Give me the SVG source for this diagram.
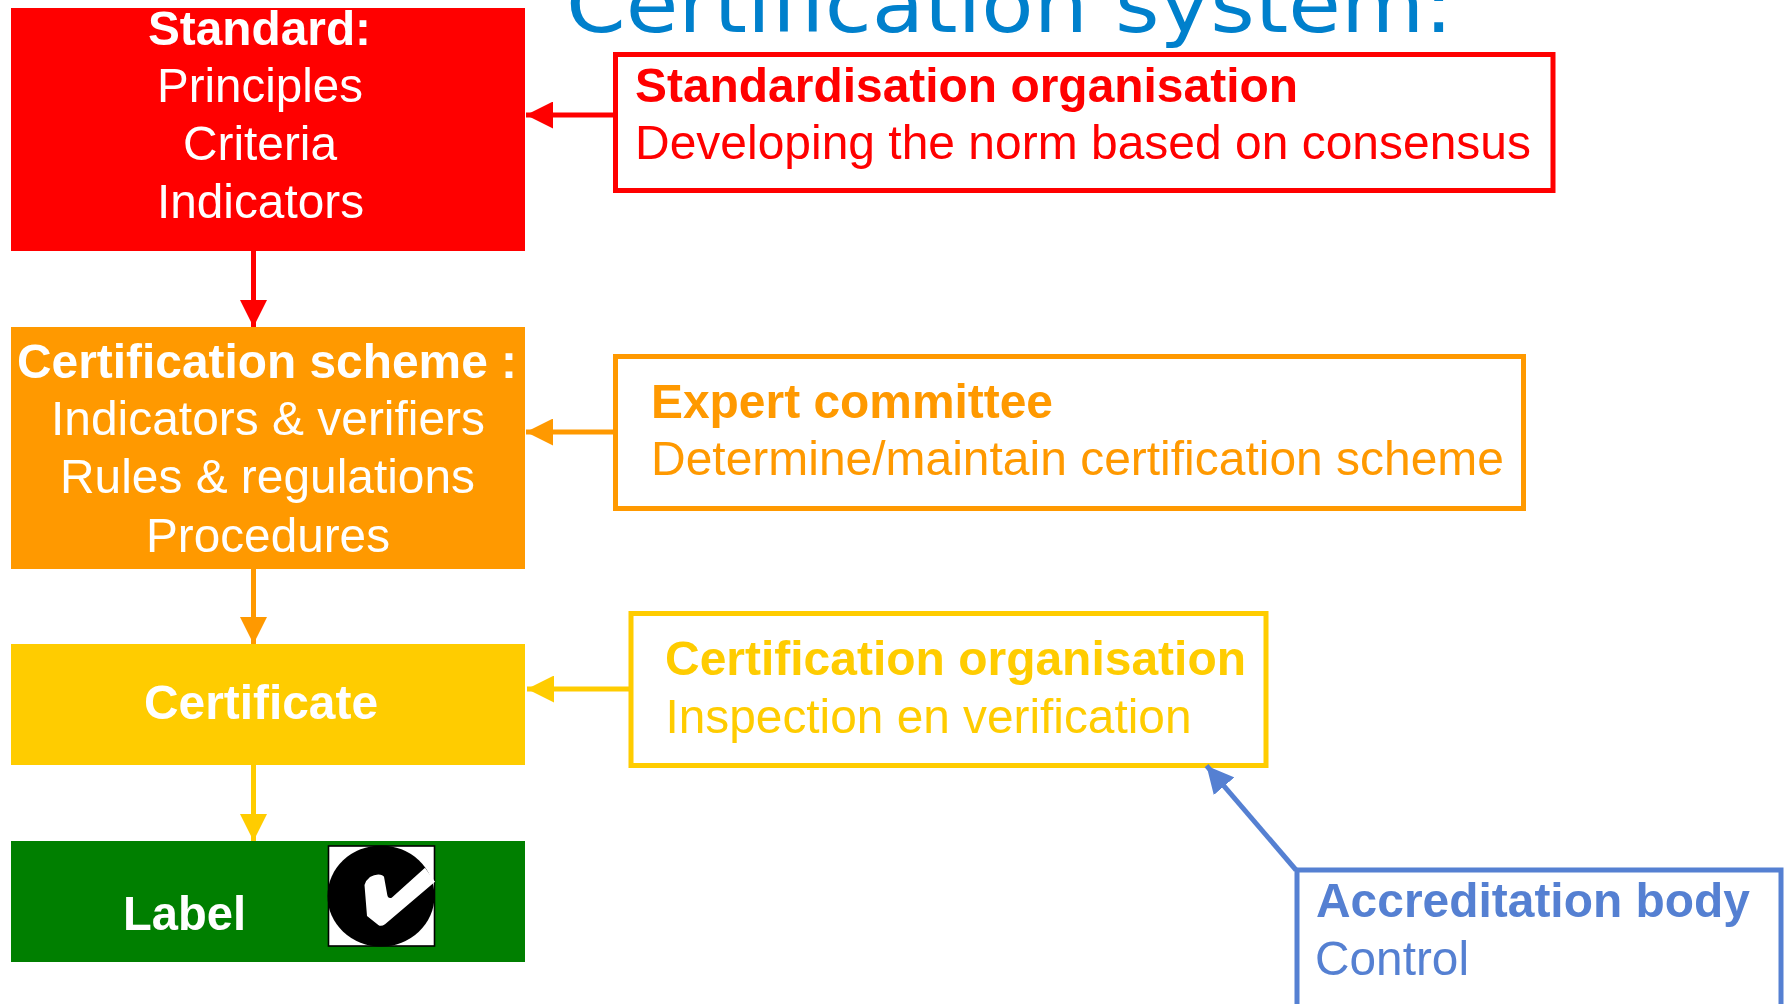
<svg xmlns="http://www.w3.org/2000/svg" width="1785" height="1004" viewBox="0 0 1785 1004">
<style>
text{font-family:"Liberation Sans",Arial,sans-serif;font-size:49px}
.b{font-weight:700}
.w{fill:#fff}
.box{fill:#fff;stroke-width:5}
.title{font-family:"DejaVu Sans",Verdana,sans-serif;font-size:78px;fill:#0080CC}
.conn{fill:none;stroke-width:5}
</style>
<defs>
<marker id="hr" markerUnits="userSpaceOnUse" markerWidth="27" markerHeight="27" refX="27" refY="13.5" orient="auto"><path d="M0 0L27 13.5L0 27z" fill="#FF0000"/></marker>
<marker id="ho" markerUnits="userSpaceOnUse" markerWidth="27" markerHeight="27" refX="27" refY="13.5" orient="auto"><path d="M0 0L27 13.5L0 27z" fill="#FF9900"/></marker>
<marker id="hy" markerUnits="userSpaceOnUse" markerWidth="27" markerHeight="27" refX="27" refY="13.5" orient="auto"><path d="M0 0L27 13.5L0 27z" fill="#FFCC00"/></marker>
<marker id="hb" markerUnits="userSpaceOnUse" markerWidth="27" markerHeight="27" refX="27" refY="13.5" orient="auto"><path d="M0 0L27 13.5L0 27z" fill="#5580D2"/></marker>
</defs>
<rect width="1785" height="1004" fill="#fff"/>
<text id="title" class="title" x="566" y="32" textLength="887" lengthAdjust="spacingAndGlyphs">Certification system:</text>
<g id="standard">
<rect x="11" y="8" width="514" height="243" fill="#FF0000"/>
<text class="b w" x="148" y="45" textLength="223" lengthAdjust="spacingAndGlyphs">Standard:</text>
<text class="w" x="157" y="102" textLength="206" lengthAdjust="spacingAndGlyphs">Principles</text>
<text class="w" x="183" y="160" textLength="154" lengthAdjust="spacingAndGlyphs">Criteria</text>
<text class="w" x="157" y="218" textLength="207" lengthAdjust="spacingAndGlyphs">Indicators</text>
</g>
<g id="scheme">
<rect x="11" y="327" width="514" height="242" fill="#FF9900"/>
<text class="b w" x="17" y="378" textLength="500" lengthAdjust="spacingAndGlyphs">Certification scheme :</text>
<text class="w" x="51" y="435" textLength="434" lengthAdjust="spacingAndGlyphs">Indicators &amp; verifiers</text>
<text class="w" x="60" y="493" textLength="415" lengthAdjust="spacingAndGlyphs">Rules &amp; regulations</text>
<text class="w" x="146" y="551.5" textLength="244" lengthAdjust="spacingAndGlyphs">Procedures</text>
</g>
<g id="certificate">
<rect x="11" y="644" width="514" height="121" fill="#FFCC00"/>
<text class="b w" x="144" y="718.5" textLength="234" lengthAdjust="spacingAndGlyphs">Certificate</text>
</g>
<g id="label">
<rect x="11" y="841" width="514" height="121" fill="#007F00"/>
<text class="b w" x="123" y="930" textLength="123" lengthAdjust="spacingAndGlyphs">Label</text>
<rect x="328.5" y="846" width="106" height="100" fill="#fff" stroke="#000" stroke-width="1.6"/>
<ellipse cx="381" cy="896" rx="53.5" ry="50.5" fill="#000"/>
<path d="M364.5 885Q366 880 370 877Q374 874.5 378.3 874.5Q383 875 384 876.7L387.3 895Q388 899 391.7 897.7L425 867.7L435 881.7L385 924.3Q381 927 378.3 925L367 916Z" fill="#fff"/>
</g>
<g id="standardisation-organisation">
<rect class="box" x="615.5" y="54.5" width="937.5" height="136" stroke="#FF0000"/>
<text class="b" fill="#FF0000" x="635" y="101.5" textLength="663" lengthAdjust="spacingAndGlyphs">Standardisation organisation</text>
<text fill="#FF0000" x="635" y="159" textLength="896" lengthAdjust="spacingAndGlyphs">Developing the norm based on consensus</text>
</g>
<g id="expert-committee">
<rect class="box" x="615.5" y="356.5" width="908" height="152" stroke="#FF9900"/>
<text class="b" fill="#FF9900" x="651" y="418" textLength="402" lengthAdjust="spacingAndGlyphs">Expert committee</text>
<text fill="#FF9900" x="651" y="475" textLength="853" lengthAdjust="spacingAndGlyphs">Determine/maintain certification scheme</text>
</g>
<g id="certification-organisation">
<rect class="box" x="631" y="613.5" width="635" height="152" stroke="#FFCC00"/>
<text class="b" fill="#FFCC00" x="665" y="675" textLength="581" lengthAdjust="spacingAndGlyphs">Certification organisation</text>
<text fill="#FFCC00" x="665.5" y="733" textLength="526" lengthAdjust="spacingAndGlyphs">Inspection en verification</text>
</g>
<g id="accreditation-body">
<rect class="box" x="1297" y="870" width="484" height="160" stroke="#5580D2"/>
<text class="b" fill="#5580D2" x="1316" y="917" textLength="434" lengthAdjust="spacingAndGlyphs">Accreditation body</text>
<text fill="#5580D2" x="1315" y="975" textLength="154" lengthAdjust="spacingAndGlyphs">Control</text>
</g>
<g id="connectors" class="conn">
<path d="M614 115H526" stroke="#FF0000" marker-end="url(#hr)"/>
<path d="M253.5 251V327" stroke="#FF0000" marker-end="url(#hr)"/>
<path d="M614 432H526" stroke="#FF9900" marker-end="url(#ho)"/>
<path d="M253.5 569V644" stroke="#FF9900" marker-end="url(#ho)"/>
<path d="M629 689H527" stroke="#FFCC00" marker-end="url(#hy)"/>
<path d="M253.5 765V841" stroke="#FFCC00" marker-end="url(#hy)"/>
<path d="M1296 870L1206.5 765.7" stroke="#5580D2" marker-end="url(#hb)"/>
</g>
</svg>
